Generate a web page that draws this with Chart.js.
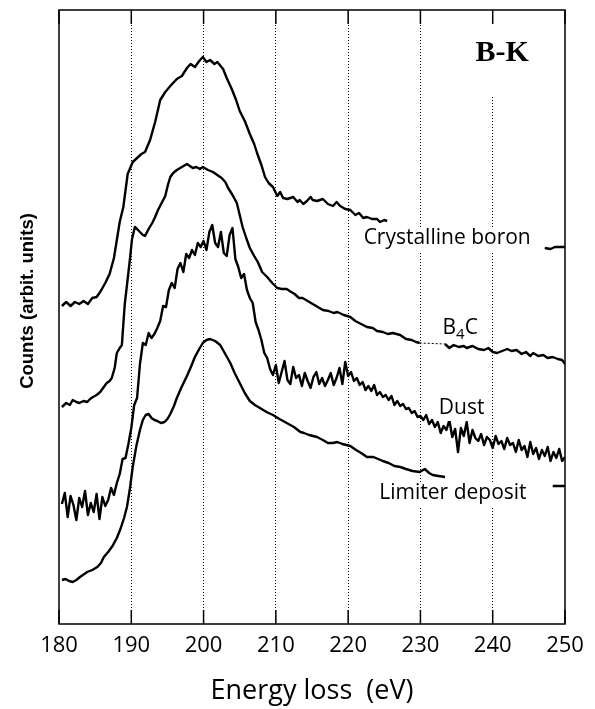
<!DOCTYPE html>
<html>
<head>
<meta charset="utf-8">
<script src="https://cdn.jsdelivr.net/npm/chart.js@4.4.1/dist/chart.umd.min.js"></script>
<style>
html,body{margin:0;padding:0;background:#fff;}
#wrap{width:595px;height:709px;position:relative;}
</style>
</head>
<body>
<div id="wrap"><canvas id="c" width="595" height="709"></canvas></div>
<script>
// ---- data (energy loss in eV, counts in arbitrary units) ----
const energyTicks = [180,190,200,210,220,230,240,250];

const crystallineE = [180.4,181.0,181.6,182.2,182.8,183.4,184.0,184.6,185.2,185.7,186.4,187.0,187.6,188.0,188.4,188.9,189.5,190.2,190.8,191.4,191.9,192.6,193.3,194.0,194.7,195.4,196.3,197.0,197.7,198.2,198.8,199.4,199.9,200.4,200.9,201.5,201.9,202.7,203.2,203.9,204.5,205.0,205.7,206.4,207.0,207.4,208.0,208.5,209.0,209.6,210.2,210.6,211.0,211.6,212.4,213.0,213.3,213.8,214.3,214.8,215.1,215.7,216.5,217.2,217.9,218.4,218.9,219.6,220.3,221.0,221.5,222.1,222.6,223.3,224.0,224.4,225.0,225.4,226.0,247.2,248.0,248.6,250.0];
const crystallineCounts = [318,322,318,322,320,323,320,326,327,332,341,350,366,384,402,417,450,462,466,470,472,484,502,524,532,538,545,548,556,560,557,563,567,562,564,560,562,555,546,535,524,513,503,490,480,471,459,447,441,437,428,432,426,425,427,422,424,420,423,427,424,423,425,420,418,422,418,415,414,409,411,406,407,405,405,402,404,403,null,376,375,377,377];

const b4cE = [180.4,181.0,181.5,181.9,182.4,182.8,183.4,183.9,184.3,184.7,185.2,185.7,186.2,186.6,187.0,187.3,187.7,188.0,188.4,188.7,188.9,189.1,189.5,189.8,190.1,190.5,190.8,191.2,191.6,191.9,192.4,192.9,193.3,193.7,194.2,194.7,195.1,195.4,195.8,196.3,197.0,197.7,198.1,198.5,199.0,199.5,199.9,200.6,201.3,201.9,202.5,203.0,203.4,204.0,204.6,205.0,205.4,205.9,206.4,207.0,207.5,208.1,208.8,209.5,210.2,210.8,211.5,211.9,212.6,213.2,213.7,214.4,215.1,215.8,216.5,217.3,218.0,218.5,219.4,220.3,221.0,221.8,222.6,223.4,224.0,224.8,225.5,226.2,227.2,228.0,228.8,229.4,229.9,233.4,234.0,234.6,235.3,236.0,236.4,237.2,238.0,238.8,239.4,240.0,240.6,241.3,242.0,242.6,243.3,244.0,244.6,245.2,245.6,246.3,247.0,247.6,248.3,249.0,249.6,250.0];
const b4cCounts = [217,221,219,224,222,221,223,222,225,227,229,232,237,241,243,246,256,271,276,279,300,320,345,364,385,397,395,392,389,388,395,401,407,414,421,428,440,447,451,454,457,460,458,456,457,455,457,454,452,449,446,442,436,429,421,409,397,386,376,368,362,352,347,341,336,335,335,333,330,326,326,323,320,317,314,313,311,312,309,307,303,300,297,296,293,292,290,291,289,285,284,282,281,280,276,279,277,278,276,278,275,274,276,272,271,273,275,273,274,270,272,268,271,268,269,266,267,265,264,260];

const dustE = [180.4,180.8,181.2,181.6,182.0,182.4,182.8,183.2,183.6,184.0,184.4,184.8,185.2,185.6,186.0,186.4,186.8,187.2,187.6,188.0,188.4,188.8,189.2,189.6,190.0,190.4,190.8,191.2,191.6,192.0,192.4,192.8,193.2,193.6,194.0,194.4,194.8,195.2,195.6,196.0,196.4,196.8,197.2,197.6,198.0,198.4,198.8,199.2,199.6,200.0,200.4,200.8,201.2,201.6,202.0,202.4,202.8,203.2,203.6,204.0,204.4,204.8,205.2,205.6,206.0,206.4,206.8,207.2,207.6,208.0,208.4,208.8,209.2,209.6,210.0,210.4,210.8,211.2,211.6,212.0,212.4,212.8,213.2,213.6,214.0,214.4,214.8,215.2,215.6,216.0,216.4,216.8,217.2,217.6,218.0,218.4,218.8,219.2,219.6,220.0,220.4,220.8,221.2,221.6,222.0,222.4,222.8,223.2,223.6,224.0,224.4,224.8,225.2,225.6,226.0,226.4,226.8,227.2,227.6,228.0,228.4,228.8,229.2,229.6,230.0,230.4,230.8,231.2,231.6,232.0,232.4,232.8,233.2,233.6,234.0,234.4,234.8,235.2,235.6,236.0,236.4,236.8,237.2,237.6,238.0,238.4,238.8,239.2,239.6,240.0,240.4,240.8,241.2,241.6,242.0,242.4,242.8,243.2,243.6,244.0,244.4,244.8,245.2,245.6,246.0,246.4,246.8,247.2,247.6,248.0,248.4,248.8,249.2,249.6,250.0];
const dustCounts = [120,131,107,128,119,104,126,117,133,109,121,112,130,105,127,118,124,136,129,141,150,165,166,180,196,219,226,260,281,279,291,286,290,296,303,318,317,334,341,336,355,361,352,370,366,374,369,381,377,383,374,392,399,381,377,392,371,368,389,396,365,357,346,350,334,326,321,302,294,284,271,266,255,249,259,241,252,263,244,240,257,246,249,238,251,243,236,247,252,240,246,238,244,251,239,246,256,240,262,248,252,243,246,239,242,234,238,233,239,229,232,227,229,224,228,219,223,218,220,215,216,211,213,207,208,204,209,200,204,197,202,191,198,194,204,187,195,172,196,188,202,181,194,186,183,190,179,187,184,176,188,180,183,175,186,179,181,172,184,174,178,167,182,170,176,165,174,168,177,163,172,166,175,163,167];

const limiterE = [180.4,180.9,181.4,181.9,182.4,182.9,183.3,183.9,184.6,185.3,185.8,186.2,186.8,187.4,188.0,188.5,189.0,189.4,189.8,190.2,190.7,191.2,191.6,192.0,192.4,192.8,193.2,193.6,194.1,194.6,195.0,195.4,195.9,196.3,196.9,197.7,198.3,198.8,199.4,199.9,200.4,200.9,201.6,202.3,203.0,203.7,204.3,205.0,205.7,206.4,207.1,207.8,208.7,209.6,210.5,211.5,212.5,213.4,213.9,214.6,215.7,216.5,217.2,217.9,218.5,219.2,220.3,221.1,221.8,222.6,223.5,224.8,225.6,226.4,227.2,228.0,228.9,229.9,230.6,231.2,231.7,232.5,233.4,234.0,248.3,250.0];
const limiterCounts = [44,45,43,42,44,47,49,52,54,57,61,67,72,78,86,95,106,117,135,157,178,194,204,209,210,206,204,203,201,202,205,210,218,226,236,248,258,267,275,281,284,285,283,279,270,261,251,241,231,223,219,216,212,209,205,201,197,192,191,189,187,184,181,181,182,180,178,174,171,167,167,163,161,158,157,155,153,152,155,151,149,148,147,null,138,138];

const seriesLabels = ['Crystalline boron','B4C','Dust','Limiter deposit'];
// label anchor points in data units [eV, counts]
const labelAnchors = [[233.7,386],[235.5,296],[235.7,216],[234.5,131]];
const panelLabel = 'B-K';
const panelAnchor = [241.3,571];
const xTitle = 'Energy loss  (eV)';
const yTitle = 'Counts (arbit. units)';

function pts(E, C){ return E.map((e,i)=>({x:e, y:C[i]})); }

const decor = {
  id:'decor',
  afterDatasetsDraw(chart){
    const {ctx, chartArea:a, scales:{x,y}} = chart;
    ctx.save();
    // gap in 240 gridline near the panel label
    ctx.fillStyle='#fff';
    const g240 = x.getPixelForValue(240);
    ctx.fillRect(g240-3, a.top+15, 6, 70);
    // frame
    ctx.strokeStyle='#000';
    ctx.lineWidth=1.5;
    ctx.strokeRect(a.left, a.top, a.right-a.left, a.bottom-a.top);
    // inward ticks
    energyTicks.forEach(v=>{
      const px = x.getPixelForValue(v);
      ctx.beginPath();
      ctx.moveTo(px, a.top); ctx.lineTo(px, a.top+14);
      ctx.moveTo(px, a.bottom); ctx.lineTo(px, a.bottom-14);
      ctx.stroke();
    });
    // series labels
    ctx.fillStyle='#000';
    ctx.textBaseline='middle';
    ctx.textAlign='center';
    const f = '21px "Open Sans"';
    labelAnchors.forEach((p,i)=>{
      const px = x.getPixelForValue(p[0]), py = y.getPixelForValue(p[1]);
      const t = seriesLabels[i];
      if (t==='B4C'){
        ctx.font=f;
        const wB = ctx.measureText('B').width, wC = ctx.measureText('C').width;
        ctx.font='15px "Open Sans"';
        const w4 = ctx.measureText('4').width;
        const tot = wB+w4+wC;
        let sx = px - tot/2;
        ctx.textAlign='left';
        ctx.font=f; ctx.fillText('B', sx, py);
        ctx.font='15px "Open Sans"'; ctx.fillText('4', sx+wB, py+7);
        ctx.font=f; ctx.fillText('C', sx+wB+w4, py);
        ctx.textAlign='center';
      } else {
        ctx.font=f;
        const w = ctx.measureText(t).width;
        ctx.fillStyle='#fff';
        ctx.fillRect(px-w/2-2, py-11, w+4, 24);
        ctx.fillStyle='#000';
        ctx.fillText(t, px, py);
      }
    });
    // panel label
    ctx.font='bold 30px "Liberation Serif"';
    ctx.fillText(panelLabel, x.getPixelForValue(panelAnchor[0]), y.getPixelForValue(panelAnchor[1]));
    // y title
    ctx.save();
    ctx.translate(28, (a.top+a.bottom)/2 - 16);
    ctx.rotate(-Math.PI/2);
    ctx.font='bold 18.5px "Liberation Sans"';
    ctx.fillText(yTitle, 0, 0);
    ctx.restore();
    ctx.restore();
  }
};

const lineStyle = {borderColor:'#000', borderWidth:2.4, pointRadius:0, tension:0, fill:false, spanGaps:false, borderJoinStyle:'round'};

new Chart(document.getElementById('c'), {
  type:'line',
  data:{
    datasets:[
      Object.assign({label:seriesLabels[0], data:pts(crystallineE, crystallineCounts)}, lineStyle),
      Object.assign({label:seriesLabels[1], data:pts(b4cE, b4cCounts),
        segment:{
          borderDash: c => (c.p0.parsed.x>=229.8 && c.p1.parsed.x<=233.5) ? [2,2] : undefined,
          borderWidth: c => (c.p0.parsed.x>=229.8 && c.p1.parsed.x<=233.5) ? 1 : undefined
        }}, lineStyle),
      Object.assign({label:seriesLabels[2], data:pts(dustE, dustCounts)}, lineStyle),
      Object.assign({label:seriesLabels[3], data:pts(limiterE, limiterCounts)}, lineStyle)
    ]
  },
  options:{
    responsive:false,
    animation:false,
    events:[],
    layout:{padding:{left:59, right:30, top:10, bottom:0}},
    plugins:{legend:{display:false}, tooltip:{enabled:false}},
    scales:{
      x:{
        type:'linear', min:180, max:250,
        afterBuildTicks: s => { s.ticks = energyTicks.map(v=>({value:v})); },
        afterFit: s => { s.height = 85; },
        grid:{
          drawTicks:false,
          lineWidth:1,
          color: c => (c.tick && c.tick.value>180 && c.tick.value<250) ? '#000' : 'rgba(0,0,0,0)'
        },
        border:{display:false, dash:[1,2]},
        ticks:{color:'#000', padding:9, font:{family:'"Open Sans"', size:22}, maxRotation:0, autoSkip:false},
        title:{display:true, text:xTitle, color:'#000', font:{family:'"Open Sans"', size:27}, padding:{top:0,bottom:1}}
      },
      y:{
        display:false, min:0, max:614
      }
    }
  },
  plugins:[decor]
});
</script>
</body>
</html>
